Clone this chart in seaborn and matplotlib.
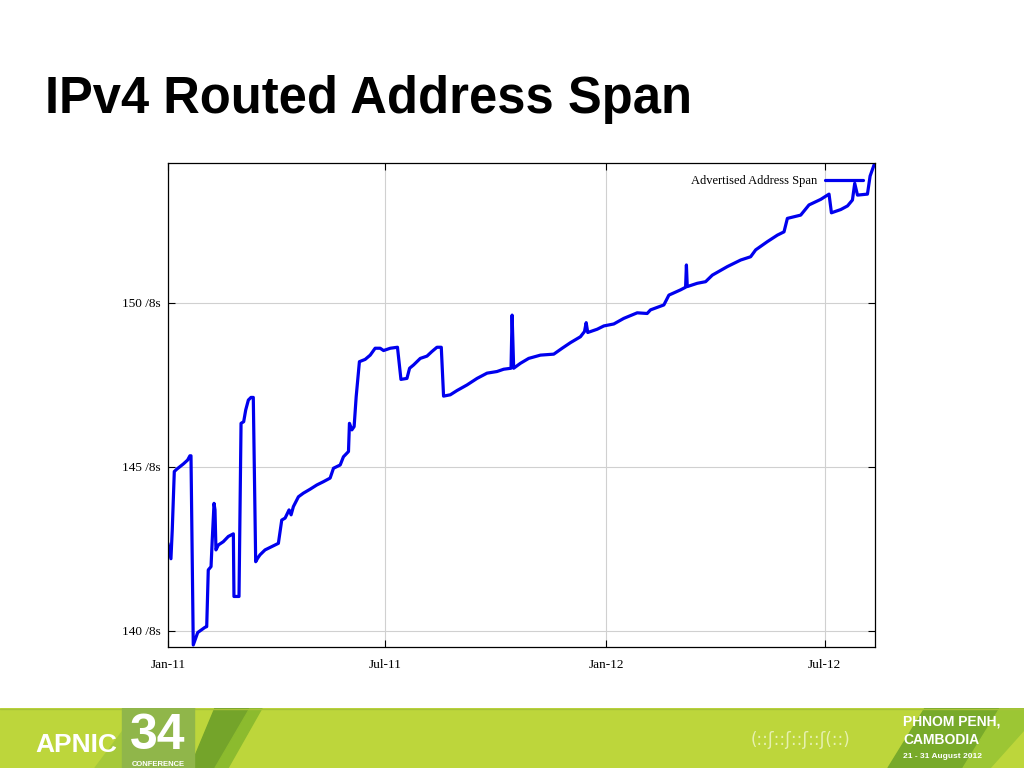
import pandas as pd
import matplotlib
matplotlib.use("Agg")
import matplotlib.pyplot as plt
import seaborn as sns
from matplotlib.patches import Polygon, Rectangle

# days since 1 Jan 2011
days = [0, 2.5, 3.6, 5.3, 7.3, 12.8, 16.4, 18.3, 19.2, 21.1, 23.1, 24.8, 30.9, 32.3,
        33.6, 35.9, 36.9, 38.4, 39.2, 40.0, 42.0, 46.1, 50.3, 54.5, 55.0, 59.2,
        60.9, 63.1, 64.8, 67.0, 69.2, 71.1, 73.1, 74.8, 76.7, 80.9, 86.5, 92.0,
        94.8, 97.6, 100.9, 102.6, 104.5, 108.7, 112.8, 118.4, 124.0, 129.5, 135.1,
        137.9, 143.5, 146.2, 150.4, 151.2, 153.2, 155.1, 156.8, 159.5, 164.3,
        168.5, 172.6, 176.8, 179.6, 185.2, 191.2, 194.1, 199.1, 201.3, 204.6,
        210.2, 215.8, 219.9, 224.1, 227.7, 229.6, 235.2, 240.8, 249.1, 257.5,
        265.8, 274.1, 279.7, 285.8, 286.7, 288.0, 293.6, 300.5, 310.3, 321.4,
        328.4, 335.3, 343.6, 347.0, 348.4, 349.7, 357.6, 363.1, 371.4, 379.7,
        390.9, 399.2, 402.0, 413.1, 417.3, 427.0, 431.2, 431.9, 432.6, 440.9,
        447.9, 453.5, 466.0, 477.1, 485.4, 489.6, 499.3, 507.7, 513.2, 516.0,
        527.1, 534.0, 543.8, 550.7, 552.7, 560.5, 566.1, 570.2, 572.1, 574.4,
        582.7, 584.9, 588.2]
span = [142.67, 142.20, 143.08, 144.86, 144.93, 145.09, 145.21, 145.34, 145.34,
        139.57, 139.78, 139.95, 140.11, 140.13, 141.86, 141.96, 142.77, 143.89,
        143.69, 142.47, 142.62, 142.72, 142.88, 142.96, 141.05, 141.05, 146.33,
        146.38, 146.74, 147.04, 147.12, 147.12, 142.11, 142.22, 142.32, 142.47,
        142.57, 142.67, 143.38, 143.44, 143.69, 143.54, 143.79, 144.09, 144.20,
        144.32, 144.45, 144.55, 144.66, 144.96, 145.06, 145.31, 145.47, 146.33,
        146.13, 146.23, 147.14, 148.21, 148.28, 148.41, 148.62, 148.62, 148.55,
        148.62, 148.65, 147.67, 147.70, 148.01, 148.11, 148.31, 148.38, 148.52,
        148.65, 148.65, 147.16, 147.20, 147.33, 147.50, 147.70, 147.86, 147.91,
        147.98, 148.01, 149.63, 148.01, 148.16, 148.31, 148.41, 148.44, 148.62,
        148.79, 148.97, 149.13, 149.40, 149.10, 149.20, 149.30, 149.36, 149.53,
        149.70, 149.68, 149.79, 149.94, 150.24, 150.40, 150.48, 151.16, 150.50,
        150.60, 150.65, 150.85, 151.11, 151.31, 151.41, 151.62, 151.87, 152.07,
        152.17, 152.58, 152.68, 152.99, 153.16, 153.32, 152.75, 152.85, 152.96,
        153.14, 153.65, 153.29, 153.32, 153.87, 154.21]

y_ticks = [140, 145, 150]
y_labels = ["140 /8s", "145 /8s", "150 /8s"]
x_ticks = ["2011-01-01", "2011-07-01", "2012-01-01", "2012-07-01"]
x_labels = ["Jan-11", "Jul-11", "Jan-12", "Jul-12"]

df = pd.DataFrame({
    "Date": pd.Timestamp("2011-01-01") + pd.to_timedelta(days, unit="D"),
    "Span": span,
})

sns.set_theme(style="white")
plt.rcParams["font.family"] = ["Liberation Serif", "DejaVu Serif"]

fig = plt.figure(figsize=(10.24, 7.68), dpi=100)
ax = fig.add_axes([0.164, 0.1576, 0.6905, 0.6302])

sns.lineplot(data=df, x="Date", y="Span", color="#0000ee", linewidth=2.3,
             label="Advertised Address Span", ax=ax)

ax.set_xlim(pd.Timestamp("2011-01-01"), pd.Timestamp("2012-08-12"))
ax.set_ylim(139.51, 154.27)
ax.set_yticks(y_ticks)
ax.set_yticklabels(y_labels)
ax.set_xticks(pd.to_datetime(x_ticks))
ax.set_xticklabels(x_labels)
ax.set_xlabel("")
ax.set_ylabel("")
ax.grid(True, color="#d0d0d0", linewidth=0.8)
ax.tick_params(axis="both", direction="in", length=5, width=0.8, color="black",
               labelsize=9.5, labelcolor="black",
               top=True, right=True, left=True, bottom=True)
ax.tick_params(axis="y", pad=5)
ax.tick_params(axis="x", pad=9)
for s in ax.spines.values():
    s.set_color("black")
    s.set_linewidth(0.9)

leg = ax.legend(loc="upper right", frameon=False, markerfirst=False,
                fontsize=9, handlelength=3.0, borderaxespad=0.6, handletextpad=0.6)
for t in leg.get_texts():
    t.set_color("black")

fig.text(0.044, 1 - 113 / 768, "IPv4 Routed Address Span", fontsize=36.5,
         fontweight="bold", color="black", family=["Liberation Sans", "DejaVu Sans"],
         ha="left", va="baseline")

# footer band
fax = fig.add_axes([0, 0, 1, 60 / 768])
fax.set_xlim(0, 1024)
fax.set_ylim(768, 708)
fax.axis("off")
fax.add_patch(Rectangle((0, 708), 1024, 60, color="#bdd63b", zorder=0))
fax.plot([0, 1024], [708.5, 708.5], color="#a8c23a", lw=1)
fax.add_patch(Polygon([(95, 768), (140, 708), (195, 708), (150, 768)],
                      color="#a6c93a", zorder=1))
fax.add_patch(Polygon([(190, 768), (215, 708), (250, 708), (215, 768)],
                      color="#74a42a", zorder=1))
fax.add_patch(Polygon([(215, 768), (250, 708), (262, 708), (228, 768)],
                      color="#8cbb2e", zorder=1))
fax.add_patch(Rectangle((122, 708), 72, 60, color="#90b64a", zorder=2))
fax.text(35, 752, "APNIC", color="white", fontsize=19, fontweight="bold",
         family=["Liberation Sans Narrow", "Liberation Sans"], va="baseline",
         ha="left", zorder=3)
fax.text(158, 749, "34", color="white", fontsize=36, fontweight="bold",
         family=["Liberation Sans Narrow", "Liberation Sans"], va="baseline",
         ha="center", zorder=3)
fax.text(158, 766, "CONFERENCE", color="white", fontsize=5.5, fontweight="bold",
         family=["Liberation Sans"], va="baseline", ha="center", zorder=3)
fax.add_patch(Polygon([(888, 768), (925, 708), (1000, 708), (963, 768)],
                      color="#78aa2a", zorder=1))
fax.add_patch(Polygon([(963, 768), (1000, 708), (1024, 708), (1024, 730), (990, 768)],
                      color="#9cc634", zorder=1))
fax.text(903, 722, "PHNOM PENH,", color="white", fontsize=10, fontweight="bold",
         family=["Liberation Sans"], va="center", ha="left", zorder=3)
fax.text(903, 740, "CAMBODIA", color="white", fontsize=10, fontweight="bold",
         family=["Liberation Sans"], va="center", ha="left", zorder=3)
fax.text(903, 756, "21 - 31 August 2012", color="white", fontsize=6,
         fontweight="bold", family=["Liberation Sans"], va="center", ha="left",
         zorder=3)
fax.text(800, 740, "(::ʃ::ʃ::ʃ::ʃ(::)", color="#e6f0b0", fontsize=12,
         family=["DejaVu Sans"], va="center", ha="center", zorder=3)

fig.savefig("out.png", dpi=100)
